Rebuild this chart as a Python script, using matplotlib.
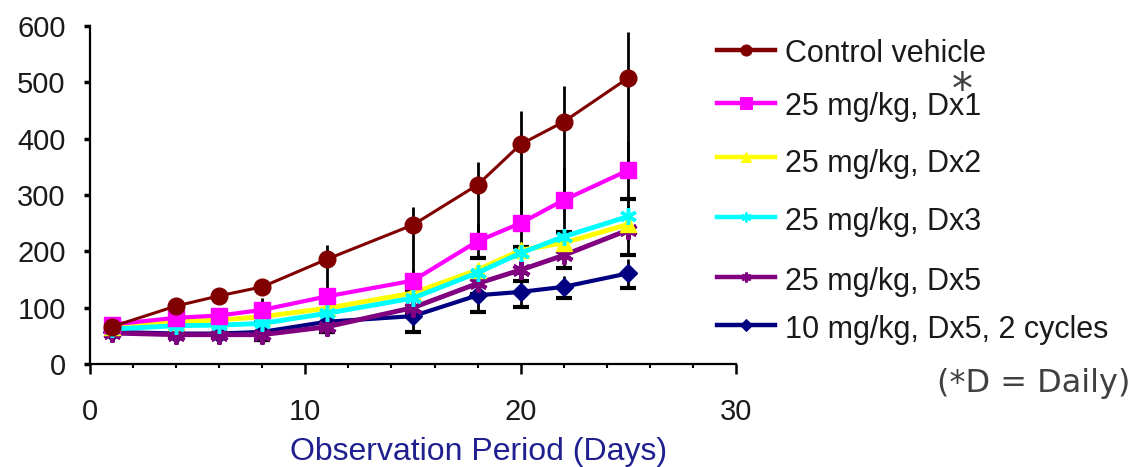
import matplotlib
matplotlib.use("Agg")
import matplotlib.pyplot as plt
from matplotlib.lines import Line2D
from matplotlib.ticker import MultipleLocator

# days of observation
days = [1, 4, 6, 8, 11, 15, 18, 20, 22, 25]

# mean tumour volume per group
control = [66, 103, 121, 137, 186, 247, 318, 390, 430, 508]
dx1 = [70, 82, 86, 96, 120, 148, 218, 250, 291, 344]
dx2 = [66, 75, 78, 84, 99, 126, 167, 202, 215, 248]
dx3 = [62, 68, 69, 72, 90, 117, 162, 197, 226, 262]
dx5 = [55, 52, 52, 52, 66, 100, 143, 167, 193, 238]
dx5_2cyc = [57, 54, 54, 57, 75, 85, 122, 128, 137, 161]

# error bars (control is drawn asymmetric, the rest symmetric)
control_err_hi = [3, 5, 6, 6, 25, 32, 41, 59, 64, 81]
control_err_lo = [3, 5, 6, 6, 66, 95, 100, 140, 139, 164]
dx1_err = [3, 5, 9, 21, 12, 20, 30, 42, 57, 51]
dx2_err = [3, 3, 4, 4, 5, 6, 8, 10, 10, 30]
dx3_err = [3, 3, 4, 4, 5, 6, 8, 10, 8, 32]
dx5_err = [3, 4, 4, 10, 10, 12, 18, 20, 22, 45]
dx5_2cyc_err = [4, 5, 6, 15, 18, 28, 30, 27, 20, 26]

labels = ["Control vehicle", "25 mg/kg, Dx1", "25 mg/kg, Dx2",
          "25 mg/kg, Dx3", "25 mg/kg, Dx5", "10 mg/kg, Dx5, 2 cycles"]

W, H = 1148, 467
fig = plt.figure(figsize=(W / 100, H / 100), dpi=100)
ax = fig.add_axes([90 / W, (H - 364) / H, (736 - 90) / W, (364 - 26) / H])

tickfont = dict(family="Liberation Sans", size=21, color="#1a1a1a")

# error bars first, lines go over them
ax.errorbar(days, control, yerr=[control_err_lo, control_err_hi], fmt="none",
            ecolor="black", elinewidth=2, capsize=0, zorder=1)
series_err = [(dx1, dx1_err, True), (dx2, dx2_err, False), (dx3, dx3_err, False),
              (dx5, dx5_err, True), (dx5_2cyc, dx5_2cyc_err, True)]
for vals, err, lowcap in series_err:
    ax.errorbar(days, vals, yerr=err, fmt="none", ecolor="black",
                elinewidth=2, capsize=0, zorder=1)
    if lowcap:
        # only the lower caps show in the original
        ax.plot(days, [v - e for v, e in zip(vals, err)], ls="none", marker="_",
                ms=12, mew=3, color="black", zorder=1)

styles = [
    dict(color="#800000", marker="o", ms=12, lw=2.2),
    dict(color="#ff00ff", marker="s", ms=11, lw=3),
    dict(color="#ffff00", marker="^", ms=11, lw=3.5),
    dict(color="#00ffff", marker=(6, 2, 0), ms=12, mew=2.5, lw=3.5),
    dict(color="#800080", marker=(6, 2, 0), ms=13, mew=3, lw=3.5),
    dict(color="#000080", marker="D", ms=9, lw=3),
]
series = [control, dx1, dx2, dx3, dx5, dx5_2cyc]
zorders = [8, 7, 5, 6, 4, 3]
for vals, st, z in zip(series, styles, zorders):
    ax.plot(days, vals, color=st["color"], lw=st["lw"], marker=st["marker"],
            ms=st["ms"], mew=st.get("mew", 1), mec=st["color"], mfc=st["color"],
            zorder=z, clip_on=False)

ax.set_xlim(0, 30)
ax.set_ylim(0, 600)
ax.set_xticks([0, 10, 20, 30])
ax.xaxis.set_minor_locator(MultipleLocator(2))
ax.set_yticks(range(0, 601, 100))
ax.spines["top"].set_visible(False)
ax.spines["right"].set_visible(False)
for s in ["left", "bottom"]:
    ax.spines[s].set_linewidth(1.6)
ax.tick_params(axis="x", which="major", direction="out", length=7.5, width=1.8, pad=17)
ax.tick_params(axis="x", which="minor", direction="out", length=3, width=1.5)
ax.tick_params(axis="y", which="major", direction="out", length=4.5, width=2.5, pad=13)
for lab in ax.get_xticklabels() + ax.get_yticklabels():
    lab.set_fontfamily(tickfont["family"])
    lab.set_fontsize(tickfont["size"])
    lab.set_color(tickfont["color"])

fig.text(290 / W, 1 - 460 / H, "Observation Period (Days)", ha="left", va="baseline",
         family="Liberation Sans", size=23, color="#1f1f8f")

# hand drawn legend to the right
handle_y = [50, 103, 157, 217, 277, 325]
text_base = [62, 115, 172, 230, 290, 338]
leg_ms = [8, 8, 7, 7, 7, 6]
for st, lab, hy, ty, ms in zip(styles, labels, handle_y, text_base, leg_ms):
    fig.add_artist(Line2D([717 / W, 775 / W], [1 - hy / H, 1 - hy / H],
                          transform=fig.transFigure, color=st["color"], lw=3.2))
    fig.add_artist(Line2D([746 / W], [1 - hy / H], transform=fig.transFigure,
                          marker=st["marker"], ms=ms, color=st["color"],
                          mec=st["color"], mew=st.get("mew", 1) * 0.7))
    fig.text(785 / W, 1 - ty / H, lab, ha="left", va="baseline",
             family="Liberation Sans", size=22, color="#1a1a1a")

fig.text(962 / W, 1 - 103 / H, "*", ha="center", va="baseline",
         family="DejaVu Sans", size=30, color="#404040")
fig.text(1130 / W, 1 - 392 / H, "(*D = Daily)", ha="right", va="baseline",
         family="DejaVu Sans", size=23, color="#404040")

fig.savefig("out.png", dpi=100)
